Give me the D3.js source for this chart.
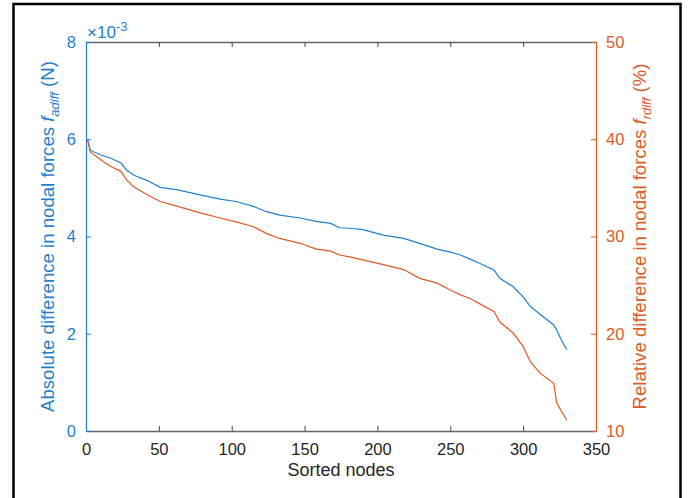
<!DOCTYPE html>
<html>
<head>
<meta charset="utf-8">
<script src="https://cdn.jsdelivr.net/npm/d3@7"></script>
<style>
  body { margin: 0; background: #fff; }
  svg { display: block; font-family: "Liberation Sans", Arial, sans-serif; }
</style>
</head>
<body>
<div id="chart"></div>
<script>
// node index (sorted) and the two differences
var nodes = [1, 3, 10, 17, 24, 28, 33, 42, 51, 63, 79, 92, 103, 115, 124, 133, 147, 158, 168, 174,
    181, 190, 204, 218, 229, 241, 250, 257, 264, 270, 280, 284, 293, 300, 305, 312, 321, 323, 326, 330];
var abs_diff = [6.00, 5.77, 5.68, 5.61, 5.51, 5.36, 5.26, 5.15, 5.01, 4.96, 4.85, 4.77, 4.72, 4.62, 4.51, 4.44, 4.38, 4.31, 4.27, 4.18,
    4.17, 4.14, 4.03, 3.96, 3.86, 3.74, 3.68, 3.62, 3.53, 3.45, 3.31, 3.14, 2.97, 2.76, 2.56, 2.39, 2.18, 2.08, 1.88, 1.67]; // x 1e-3 N
var rel_diff = [40.0, 38.7, 37.9, 37.2, 36.7, 35.8, 35.1, 34.3, 33.6, 33.1, 32.4, 31.9, 31.5, 31.0, 30.3, 29.8, 29.3, 28.7, 28.5, 28.1,
    27.9, 27.6, 27.1, 26.6, 25.7, 25.2, 24.5, 24.0, 23.6, 23.1, 22.3, 21.2, 20.1, 18.7, 17.1, 15.9, 14.9, 12.9, 12.1, 11.1]; // %

var x_ticks = [0, 50, 100, 150, 200, 250, 300, 350];
var left_ticks = [0, 2, 4, 6, 8];
var right_ticks = [10, 20, 30, 40, 50];

var chart_width = 691, chart_height = 498;
var pad_left = 86, pad_right = 596, pad_top = 42, pad_bottom = 431;
var blue = '#1f80cf', orange = '#e05a24', grey = '#666';

var svg = d3.select('#chart').append('svg')
    .attr('width', chart_width)
    .attr('height', chart_height);

// figure frame (open at the bottom edge)
svg.append('rect')
    .attr('x', 13.5).attr('y', 4)
    .attr('width', 667).attr('height', 600)
    .attr('fill', 'none')
    .attr('stroke', '#000')
    .attr('stroke-width', 2.5);

var x_scale = d3.scaleLinear().domain([0, 350]).range([pad_left, pad_right]);
var y_left = d3.scaleLinear().domain([0, 8]).range([pad_bottom, pad_top]);
var y_right = d3.scaleLinear().domain([10, 50]).range([pad_bottom, pad_top]);

// box: top and bottom
var x_bottom = d3.axisBottom(x_scale).tickValues(x_ticks).tickSizeInner(-5).tickSizeOuter(0).tickPadding(12);
var x_top = d3.axisTop(x_scale).tickValues(x_ticks).tickSizeInner(-5).tickSizeOuter(0).tickFormat('');

var gb = svg.append('g').attr('transform', 'translate(0,' + pad_bottom + ')').call(x_bottom);
var gt = svg.append('g').attr('transform', 'translate(0,' + pad_top + ')').call(x_top);
[gb, gt].forEach(function(g) {
    g.select('.domain').attr('stroke', grey).attr('stroke-width', 1.5);
    g.selectAll('.tick line').attr('stroke', '#444');
    g.selectAll('.tick text').attr('fill', '#262626').style('font-size', '16.5px');
});

var yl_axis = d3.axisLeft(y_left).tickValues(left_ticks).tickSizeInner(-5).tickSizeOuter(0).tickPadding(10);
var gl = svg.append('g').attr('transform', 'translate(' + pad_left + ',0)').call(yl_axis);
gl.select('.domain').attr('stroke', blue).attr('stroke-width', 1.2);
gl.selectAll('.tick line').attr('stroke', blue);
gl.selectAll('.tick text').attr('fill', blue).style('font-size', '16.5px');

var yr_axis = d3.axisRight(y_right).tickValues(right_ticks).tickSizeInner(-5).tickSizeOuter(0).tickPadding(10);
var gr = svg.append('g').attr('transform', 'translate(' + pad_right + ',0)').call(yr_axis);
gr.select('.domain').attr('stroke', orange).attr('stroke-width', 1.2);
gr.selectAll('.tick line').attr('stroke', orange);
gr.selectAll('.tick text').attr('fill', orange).style('font-size', '16.5px');

// exponent note
var expo = svg.append('text')
    .attr('x', pad_left + 1).attr('y', pad_top - 4)
    .attr('fill', blue).style('font-size', '17px');
expo.append('tspan').text('\u00d710');
expo.append('tspan').attr('dy', -7).style('font-size', '13px').text('-3');

// lines
var abs_line = d3.line()
    .x(function(d, i) { return x_scale(nodes[i]); })
    .y(function(d) { return y_left(d); });
var rel_line = d3.line()
    .x(function(d, i) { return x_scale(nodes[i]); })
    .y(function(d) { return y_right(d); });

svg.append('path')
    .datum(abs_diff)
    .attr('d', abs_line)
    .attr('fill', 'none')
    .attr('stroke', blue)
    .attr('stroke-width', 1.2);

svg.append('path')
    .datum(rel_diff)
    .attr('d', rel_line)
    .attr('fill', 'none')
    .attr('stroke', orange)
    .attr('stroke-width', 1.2);

// axis titles
svg.append('text')
    .attr('x', (pad_left + pad_right) / 2).attr('y', 476)
    .attr('text-anchor', 'middle')
    .attr('fill', '#262626').style('font-size', '18px')
    .text('Sorted nodes');

function ylabel(x, color, main, sub, unit) {
    var t = svg.append('text')
        .attr('transform', 'translate(' + x + ',' + (pad_top + pad_bottom) / 2 + ') rotate(-90)')
        .attr('text-anchor', 'middle')
        .attr('fill', color).style('font-size', '18.6px');
    t.append('tspan').text(main + '  ');
    t.append('tspan').style('font-style', 'italic').text('f');
    t.append('tspan').attr('dy', 5).style('font-style', 'italic').style('font-size', '13px').text(sub);
    t.append('tspan').attr('dy', -5).text(' ' + unit);
}
ylabel(54, blue, 'Absolute difference in nodal forces', 'adiff', '(N)');
ylabel(646, orange, 'Relative difference in nodal forces', 'rdiff', '(%)');
</script>
</body>
</html>
